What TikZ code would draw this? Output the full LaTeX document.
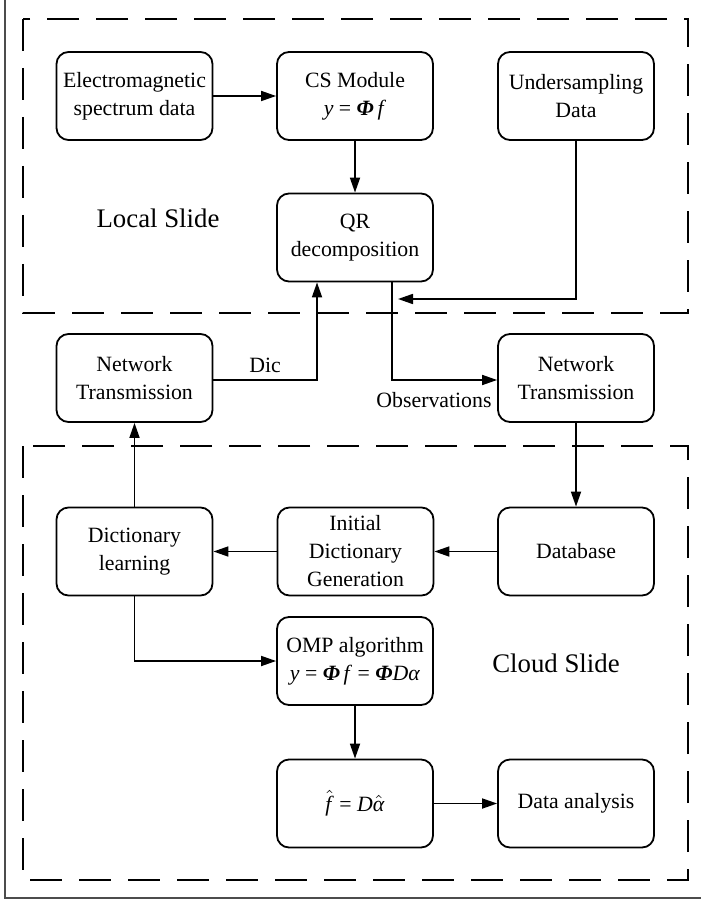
\documentclass[tikz,border=0pt]{standalone}
\usepackage{fontspec}
\setmainfont{Liberation Serif}
\usetikzlibrary{arrows.meta}
\newcommand{\bphi}{\textbf{\textit{Φ}}}
\newcommand{\hatit}[1]{$\hat{\hbox{\textit{#1}}}$}

\begin{document}
\begin{tikzpicture}[x=0.5pt,y=-0.5pt]
\tikzstyle{blk}=[draw,line width=0.9pt,rounded corners=6pt,minimum width=78pt,minimum height=44pt,align=center,inner sep=1pt,font=\fontsize{10.9}{14}\selectfont]
\tikzstyle{arr}=[line width=0.85pt,-{Triangle[length=7.5pt,width=5pt]}]
\tikzstyle{slide}=[line width=0.7pt,dash pattern=on 16pt off 8.5pt]
\tikzstyle{region}=[font=\fontsize{13.4}{16}\selectfont]
\tikzstyle{lbl}=[font=\fontsize{10.9}{14}\selectfont]
\useasboundingbox (0,0) rectangle (701,903);
\draw[line width=0.8pt,black!70] (5,0) -- (5,898) -- (701,898);
\draw[slide] (23,19) rectangle (688,313);
\draw[slide] (23,446) rectangle (688,880);
\node[region] (local) at (158,218) {Local Slide};
\node[region] (cloud) at (556,663) {Cloud Slide};
\node[blk] (em) at (134.5,96) {Electromagnetic\\spectrum data};
\node[blk] (cs) at (355,96) {CS Module\\\textit{y} = \bphi\,\textit{f}};
\node[blk] (us) at (576,96) {Undersampling\\Data};
\node[blk] (qr) at (355,237.5) {QR\\decomposition};
\node[blk] (ntl) at (134.5,378) {Network\\Transmission};
\node[blk] (ntr) at (576,378) {Network\\Transmission};
\node[blk] (dl) at (134.5,551.5) {Dictionary\\learning};
\node[blk] (idg) at (355.5,551.5) {Initial\\Dictionary\\Generation};
\node[blk] (db) at (576,551.5) {Database};
\node[blk] (omp) at (355,661) {OMP algorithm\\\textit{y} = \bphi\,\textit{f} = \bphi\textit{Dα}};
\node[blk] (fh) at (355,803.5) {\hatit{f} = \textit{D}\hatit{α}};
\node[blk] (da) at (576,803.5) {Data analysis};
\coordinate (usin) at (398,299);
\coordinate (dicup) at (317,380);
\coordinate (obsdn) at (392,380);
\draw[arr] (em) -- (cs);
\draw[arr] (cs) -- (qr);
\draw[arr] (us.south) |- (usin);
\draw[arr] (ntl.east |- dicup) -- (dicup) -- (dicup |- qr.south);
\draw[arr] (obsdn |- qr.south) -- (obsdn) -- (ntr.west |- obsdn);
\node[lbl] (dic) at (265,365) {Dic};
\node[lbl] (obs) at (434,400) {Observations};
\draw[arr] (ntr) -- (db);
\draw[arr] (db) -- (idg);
\draw[arr] (idg) -- (dl);
\draw[arr] (dl) -- (ntl);
\draw[arr] (dl.south) |- (omp.west);
\draw[arr] (omp) -- (fh);
\draw[arr] (fh) -- (da);
\end{tikzpicture}
\end{document}
